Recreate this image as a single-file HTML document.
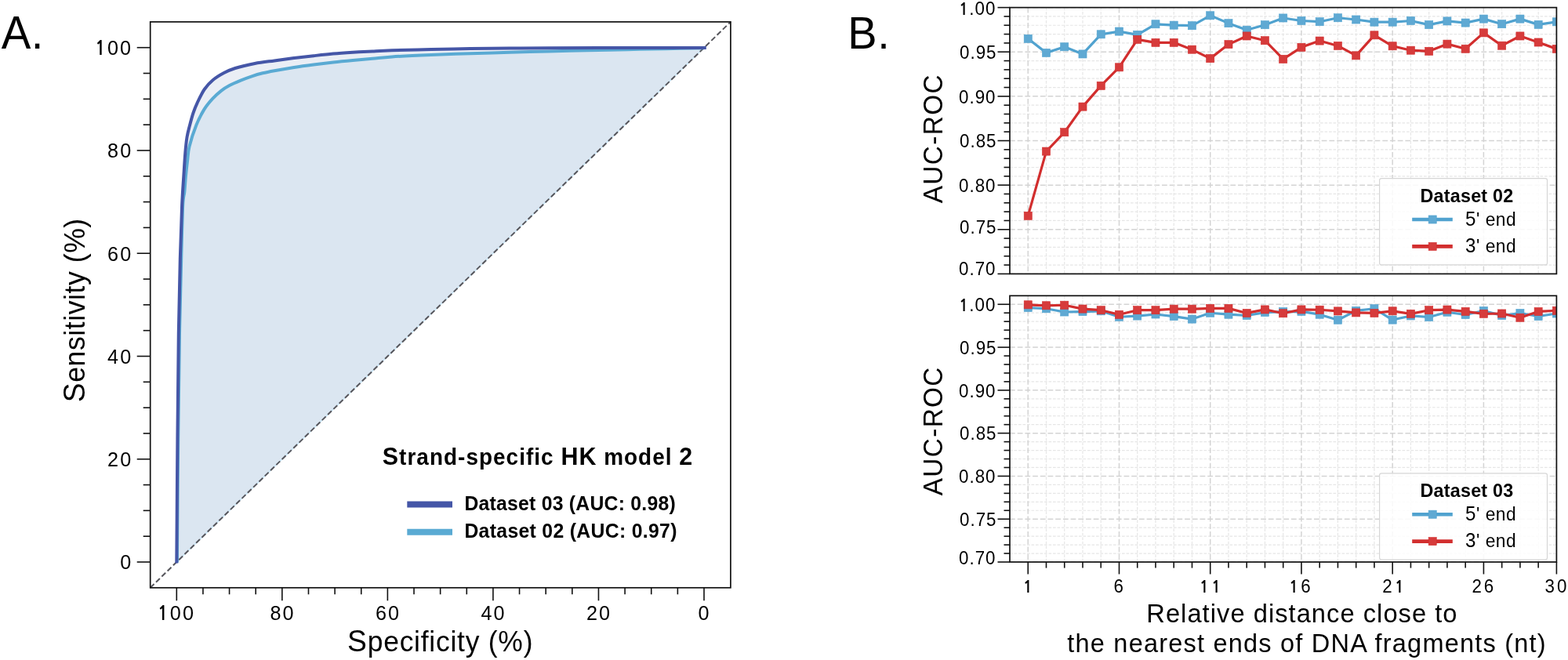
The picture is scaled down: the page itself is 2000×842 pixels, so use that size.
<!DOCTYPE html>
<html><head><meta charset="utf-8"><title>Figure</title>
<style>
html,body{margin:0;padding:0;background:#fff;}
body{width:2000px;height:842px;overflow:hidden;}
svg{display:block;}
text{font-family:"Liberation Sans", Arial, Helvetica, sans-serif;fill:#000;}
</style></head>
<body>
<svg width="2000" height="842" viewBox="0 0 2000 842">
<rect width="2000" height="842" fill="#fff"/>
<g>
<path d="M225.3,718.5 C225.48,692.08 225.98,608.92 226.4,560 C226.82,511.08 227.23,463.33 227.8,425 C228.37,386.67 229.08,357.17 229.8,330 C230.52,302.83 231.35,279.5 232.1,262 C232.85,244.5 233.6,236.17 234.3,225 C235,213.83 235.6,203.33 236.3,195 C237,186.67 237.55,180.83 238.5,175 C239.45,169.17 240.67,165.17 242,160 C243.33,154.83 244.87,148.87 246.5,144 C248.13,139.13 249.43,135.8 251.8,130.8 C254.17,125.8 257.43,118.75 260.7,114 C263.97,109.25 267.25,105.78 271.4,102.3 C275.55,98.82 280.83,95.65 285.6,93.1 C290.37,90.55 293.43,89.02 300,87 C306.57,84.98 316.67,82.6 325,81 C333.33,79.4 341.67,78.55 350,77.4 C358.33,76.25 366.67,75.13 375,74.1 C383.33,73.07 391.67,72.12 400,71.2 C408.33,70.28 416.67,69.33 425,68.6 C433.33,67.87 441.67,67.33 450,66.8 C458.33,66.27 466.67,65.82 475,65.4 C483.33,64.98 487.5,64.7 500,64.3 C512.5,63.9 533.33,63.38 550,63 C566.67,62.62 583.33,62.25 600,62 C616.67,61.75 633.33,61.63 650,61.5 C666.67,61.37 675,61.28 700,61.2 C725,61.12 766.53,61.08 800,61.05 C833.47,61.02 884,61.01 900.8,61 L898,60.7 L225.3,717 Z" fill="#eaeef5" stroke="none"/>
<path d="M225.9,717.5 C226.12,691.25 226.68,608.75 227.2,560 C227.72,511.25 228.33,463.33 229,425 C229.67,386.67 230.5,357.17 231.2,330 C231.9,302.83 232.52,276.17 233.2,262 C233.88,247.83 234.68,251.17 235.3,245 C235.92,238.83 236.27,231.67 236.9,225 C237.53,218.33 238.33,211.33 239.1,205 C239.87,198.67 239.62,194.58 241.5,187 C243.38,179.42 247.2,167.48 250.4,159.5 C253.6,151.52 257.2,144.75 260.7,139.1 C264.2,133.45 267.83,129.48 271.4,125.6 C274.97,121.72 278.55,118.57 282.1,115.8 C285.65,113.03 288.55,111.2 292.7,109 C296.85,106.8 302.25,104.55 307,102.6 C311.75,100.65 316.53,98.85 321.2,97.3 C325.87,95.75 330.2,94.48 335,93.3 C339.8,92.12 343.33,91.43 350,90.2 C356.67,88.97 366.67,87.2 375,85.9 C383.33,84.6 391.67,83.48 400,82.4 C408.33,81.32 416.67,80.32 425,79.4 C433.33,78.48 441.67,77.68 450,76.9 C458.33,76.12 466.67,75.45 475,74.7 C483.33,73.95 487.5,73.18 500,72.4 C512.5,71.62 533.33,70.7 550,70 C566.67,69.3 583.33,68.73 600,68.2 C616.67,67.67 633.33,67.25 650,66.8 C666.67,66.35 683.33,65.92 700,65.5 C716.67,65.08 733.33,64.68 750,64.3 C766.67,63.92 783.33,63.55 800,63.2 C816.67,62.85 833.67,62.53 850,62.2 C866.33,61.87 890,61.37 898,61.2 L898,60.7 L225.3,717 Z" fill="#dbe6f1" stroke="none"/>
<line x1="225.3" y1="717" x2="898" y2="60.7" stroke="#c4e2f3" stroke-width="1.3"/>
<line x1="191.7" y1="749.8" x2="931.9" y2="27.9" stroke="#56565c" stroke-width="2" stroke-dasharray="6.8 3.4"/>
<path d="M225.9,717.5 C226.12,691.25 226.68,608.75 227.2,560 C227.72,511.25 228.33,463.33 229,425 C229.67,386.67 230.5,357.17 231.2,330 C231.9,302.83 232.52,276.17 233.2,262 C233.88,247.83 234.68,251.17 235.3,245 C235.92,238.83 236.27,231.67 236.9,225 C237.53,218.33 238.33,211.33 239.1,205 C239.87,198.67 239.62,194.58 241.5,187 C243.38,179.42 247.2,167.48 250.4,159.5 C253.6,151.52 257.2,144.75 260.7,139.1 C264.2,133.45 267.83,129.48 271.4,125.6 C274.97,121.72 278.55,118.57 282.1,115.8 C285.65,113.03 288.55,111.2 292.7,109 C296.85,106.8 302.25,104.55 307,102.6 C311.75,100.65 316.53,98.85 321.2,97.3 C325.87,95.75 330.2,94.48 335,93.3 C339.8,92.12 343.33,91.43 350,90.2 C356.67,88.97 366.67,87.2 375,85.9 C383.33,84.6 391.67,83.48 400,82.4 C408.33,81.32 416.67,80.32 425,79.4 C433.33,78.48 441.67,77.68 450,76.9 C458.33,76.12 466.67,75.45 475,74.7 C483.33,73.95 487.5,73.18 500,72.4 C512.5,71.62 533.33,70.7 550,70 C566.67,69.3 583.33,68.73 600,68.2 C616.67,67.67 633.33,67.25 650,66.8 C666.67,66.35 683.33,65.92 700,65.5 C716.67,65.08 733.33,64.68 750,64.3 C766.67,63.92 783.33,63.55 800,63.2 C816.67,62.85 833.67,62.53 850,62.2 C866.33,61.87 890,61.37 898,61.2" fill="none" stroke="#5aaad3" stroke-width="4"/>
<path d="M225.3,718.5 C225.48,692.08 225.98,608.92 226.4,560 C226.82,511.08 227.23,463.33 227.8,425 C228.37,386.67 229.08,357.17 229.8,330 C230.52,302.83 231.35,279.5 232.1,262 C232.85,244.5 233.6,236.17 234.3,225 C235,213.83 235.6,203.33 236.3,195 C237,186.67 237.55,180.83 238.5,175 C239.45,169.17 240.67,165.17 242,160 C243.33,154.83 244.87,148.87 246.5,144 C248.13,139.13 249.43,135.8 251.8,130.8 C254.17,125.8 257.43,118.75 260.7,114 C263.97,109.25 267.25,105.78 271.4,102.3 C275.55,98.82 280.83,95.65 285.6,93.1 C290.37,90.55 293.43,89.02 300,87 C306.57,84.98 316.67,82.6 325,81 C333.33,79.4 341.67,78.55 350,77.4 C358.33,76.25 366.67,75.13 375,74.1 C383.33,73.07 391.67,72.12 400,71.2 C408.33,70.28 416.67,69.33 425,68.6 C433.33,67.87 441.67,67.33 450,66.8 C458.33,66.27 466.67,65.82 475,65.4 C483.33,64.98 487.5,64.7 500,64.3 C512.5,63.9 533.33,63.38 550,63 C566.67,62.62 583.33,62.25 600,62 C616.67,61.75 633.33,61.63 650,61.5 C666.67,61.37 675,61.28 700,61.2 C725,61.12 766.53,61.08 800,61.05 C833.47,61.02 884,61.01 900.8,61" fill="none" stroke="#4556a7" stroke-width="4"/>
<rect x="191.7" y="27.9" width="740.2" height="721.9" fill="none" stroke="#111" stroke-width="1.7"/>
<line x1="174.7" y1="717" x2="191.7" y2="717" stroke="#111" stroke-width="1.6" />
<line x1="182.7" y1="684.18" x2="191.7" y2="684.18" stroke="#111" stroke-width="1.6" />
<line x1="182.7" y1="651.37" x2="191.7" y2="651.37" stroke="#111" stroke-width="1.6" />
<line x1="182.7" y1="618.56" x2="191.7" y2="618.56" stroke="#111" stroke-width="1.6" />
<line x1="174.7" y1="585.74" x2="191.7" y2="585.74" stroke="#111" stroke-width="1.6" />
<line x1="182.7" y1="552.92" x2="191.7" y2="552.92" stroke="#111" stroke-width="1.6" />
<line x1="182.7" y1="520.11" x2="191.7" y2="520.11" stroke="#111" stroke-width="1.6" />
<line x1="182.7" y1="487.3" x2="191.7" y2="487.3" stroke="#111" stroke-width="1.6" />
<line x1="174.7" y1="454.48" x2="191.7" y2="454.48" stroke="#111" stroke-width="1.6" />
<line x1="182.7" y1="421.67" x2="191.7" y2="421.67" stroke="#111" stroke-width="1.6" />
<line x1="182.7" y1="388.85" x2="191.7" y2="388.85" stroke="#111" stroke-width="1.6" />
<line x1="182.7" y1="356.04" x2="191.7" y2="356.04" stroke="#111" stroke-width="1.6" />
<line x1="174.7" y1="323.22" x2="191.7" y2="323.22" stroke="#111" stroke-width="1.6" />
<line x1="182.7" y1="290.41" x2="191.7" y2="290.41" stroke="#111" stroke-width="1.6" />
<line x1="182.7" y1="257.59" x2="191.7" y2="257.59" stroke="#111" stroke-width="1.6" />
<line x1="182.7" y1="224.78" x2="191.7" y2="224.78" stroke="#111" stroke-width="1.6" />
<line x1="174.7" y1="191.96" x2="191.7" y2="191.96" stroke="#111" stroke-width="1.6" />
<line x1="182.7" y1="159.14" x2="191.7" y2="159.14" stroke="#111" stroke-width="1.6" />
<line x1="182.7" y1="126.33" x2="191.7" y2="126.33" stroke="#111" stroke-width="1.6" />
<line x1="182.7" y1="93.51" x2="191.7" y2="93.51" stroke="#111" stroke-width="1.6" />
<line x1="174.7" y1="60.7" x2="191.7" y2="60.7" stroke="#111" stroke-width="1.6" />
<line x1="898" y1="749.8" x2="898" y2="766.3" stroke="#111" stroke-width="1.6" />
<line x1="864.37" y1="749.8" x2="864.37" y2="758.3" stroke="#111" stroke-width="1.6" />
<line x1="830.73" y1="749.8" x2="830.73" y2="758.3" stroke="#111" stroke-width="1.6" />
<line x1="797.1" y1="749.8" x2="797.1" y2="758.3" stroke="#111" stroke-width="1.6" />
<line x1="763.46" y1="749.8" x2="763.46" y2="766.3" stroke="#111" stroke-width="1.6" />
<line x1="729.83" y1="749.8" x2="729.83" y2="758.3" stroke="#111" stroke-width="1.6" />
<line x1="696.19" y1="749.8" x2="696.19" y2="758.3" stroke="#111" stroke-width="1.6" />
<line x1="662.56" y1="749.8" x2="662.56" y2="758.3" stroke="#111" stroke-width="1.6" />
<line x1="628.92" y1="749.8" x2="628.92" y2="766.3" stroke="#111" stroke-width="1.6" />
<line x1="595.29" y1="749.8" x2="595.29" y2="758.3" stroke="#111" stroke-width="1.6" />
<line x1="561.65" y1="749.8" x2="561.65" y2="758.3" stroke="#111" stroke-width="1.6" />
<line x1="528.02" y1="749.8" x2="528.02" y2="758.3" stroke="#111" stroke-width="1.6" />
<line x1="494.38" y1="749.8" x2="494.38" y2="766.3" stroke="#111" stroke-width="1.6" />
<line x1="460.75" y1="749.8" x2="460.75" y2="758.3" stroke="#111" stroke-width="1.6" />
<line x1="427.11" y1="749.8" x2="427.11" y2="758.3" stroke="#111" stroke-width="1.6" />
<line x1="393.48" y1="749.8" x2="393.48" y2="758.3" stroke="#111" stroke-width="1.6" />
<line x1="359.84" y1="749.8" x2="359.84" y2="766.3" stroke="#111" stroke-width="1.6" />
<line x1="326.21" y1="749.8" x2="326.21" y2="758.3" stroke="#111" stroke-width="1.6" />
<line x1="292.57" y1="749.8" x2="292.57" y2="758.3" stroke="#111" stroke-width="1.6" />
<line x1="258.94" y1="749.8" x2="258.94" y2="758.3" stroke="#111" stroke-width="1.6" />
<line x1="225.3" y1="749.8" x2="225.3" y2="766.3" stroke="#111" stroke-width="1.6" />
<line x1="519.3" y1="643.55" x2="577" y2="643.55" stroke="#4556a7" stroke-width="7.9" />
<line x1="519.3" y1="678.8" x2="577" y2="678.8" stroke="#5aaad3" stroke-width="7.9" />
</g>
<g>
<clipPath id="cpT"><rect x="1288.0" y="9.6" width="697.4" height="339.8"/></clipPath>
<g clip-path="url(#cpT)">
<line x1="1288.0" y1="349.4" x2="1985.4" y2="349.4" stroke="#d4d4d4" stroke-width="1.5" stroke-dasharray="6.8 2.9"/>
<line x1="1288.0" y1="338.07" x2="1985.4" y2="338.07" stroke="#e6e6e6" stroke-width="1.2" stroke-dasharray="3.7 1.8"/>
<line x1="1288.0" y1="326.75" x2="1985.4" y2="326.75" stroke="#e6e6e6" stroke-width="1.2" stroke-dasharray="3.7 1.8"/>
<line x1="1288.0" y1="315.42" x2="1985.4" y2="315.42" stroke="#e6e6e6" stroke-width="1.2" stroke-dasharray="3.7 1.8"/>
<line x1="1288.0" y1="304.09" x2="1985.4" y2="304.09" stroke="#e6e6e6" stroke-width="1.2" stroke-dasharray="3.7 1.8"/>
<line x1="1288.0" y1="292.77" x2="1985.4" y2="292.77" stroke="#d4d4d4" stroke-width="1.5" stroke-dasharray="6.8 2.9"/>
<line x1="1288.0" y1="281.44" x2="1985.4" y2="281.44" stroke="#e6e6e6" stroke-width="1.2" stroke-dasharray="3.7 1.8"/>
<line x1="1288.0" y1="270.11" x2="1985.4" y2="270.11" stroke="#e6e6e6" stroke-width="1.2" stroke-dasharray="3.7 1.8"/>
<line x1="1288.0" y1="258.79" x2="1985.4" y2="258.79" stroke="#e6e6e6" stroke-width="1.2" stroke-dasharray="3.7 1.8"/>
<line x1="1288.0" y1="247.46" x2="1985.4" y2="247.46" stroke="#e6e6e6" stroke-width="1.2" stroke-dasharray="3.7 1.8"/>
<line x1="1288.0" y1="236.13" x2="1985.4" y2="236.13" stroke="#d4d4d4" stroke-width="1.5" stroke-dasharray="6.8 2.9"/>
<line x1="1288.0" y1="224.81" x2="1985.4" y2="224.81" stroke="#e6e6e6" stroke-width="1.2" stroke-dasharray="3.7 1.8"/>
<line x1="1288.0" y1="213.48" x2="1985.4" y2="213.48" stroke="#e6e6e6" stroke-width="1.2" stroke-dasharray="3.7 1.8"/>
<line x1="1288.0" y1="202.15" x2="1985.4" y2="202.15" stroke="#e6e6e6" stroke-width="1.2" stroke-dasharray="3.7 1.8"/>
<line x1="1288.0" y1="190.83" x2="1985.4" y2="190.83" stroke="#e6e6e6" stroke-width="1.2" stroke-dasharray="3.7 1.8"/>
<line x1="1288.0" y1="179.5" x2="1985.4" y2="179.5" stroke="#d4d4d4" stroke-width="1.5" stroke-dasharray="6.8 2.9"/>
<line x1="1288.0" y1="168.17" x2="1985.4" y2="168.17" stroke="#e6e6e6" stroke-width="1.2" stroke-dasharray="3.7 1.8"/>
<line x1="1288.0" y1="156.85" x2="1985.4" y2="156.85" stroke="#e6e6e6" stroke-width="1.2" stroke-dasharray="3.7 1.8"/>
<line x1="1288.0" y1="145.52" x2="1985.4" y2="145.52" stroke="#e6e6e6" stroke-width="1.2" stroke-dasharray="3.7 1.8"/>
<line x1="1288.0" y1="134.19" x2="1985.4" y2="134.19" stroke="#e6e6e6" stroke-width="1.2" stroke-dasharray="3.7 1.8"/>
<line x1="1288.0" y1="122.87" x2="1985.4" y2="122.87" stroke="#d4d4d4" stroke-width="1.5" stroke-dasharray="6.8 2.9"/>
<line x1="1288.0" y1="111.54" x2="1985.4" y2="111.54" stroke="#e6e6e6" stroke-width="1.2" stroke-dasharray="3.7 1.8"/>
<line x1="1288.0" y1="100.21" x2="1985.4" y2="100.21" stroke="#e6e6e6" stroke-width="1.2" stroke-dasharray="3.7 1.8"/>
<line x1="1288.0" y1="88.89" x2="1985.4" y2="88.89" stroke="#e6e6e6" stroke-width="1.2" stroke-dasharray="3.7 1.8"/>
<line x1="1288.0" y1="77.56" x2="1985.4" y2="77.56" stroke="#e6e6e6" stroke-width="1.2" stroke-dasharray="3.7 1.8"/>
<line x1="1288.0" y1="66.23" x2="1985.4" y2="66.23" stroke="#d4d4d4" stroke-width="1.5" stroke-dasharray="6.8 2.9"/>
<line x1="1288.0" y1="54.91" x2="1985.4" y2="54.91" stroke="#e6e6e6" stroke-width="1.2" stroke-dasharray="3.7 1.8"/>
<line x1="1288.0" y1="43.58" x2="1985.4" y2="43.58" stroke="#e6e6e6" stroke-width="1.2" stroke-dasharray="3.7 1.8"/>
<line x1="1288.0" y1="32.25" x2="1985.4" y2="32.25" stroke="#e6e6e6" stroke-width="1.2" stroke-dasharray="3.7 1.8"/>
<line x1="1288.0" y1="20.93" x2="1985.4" y2="20.93" stroke="#e6e6e6" stroke-width="1.2" stroke-dasharray="3.7 1.8"/>
<line x1="1288.0" y1="9.6" x2="1985.4" y2="9.6" stroke="#d4d4d4" stroke-width="1.5" stroke-dasharray="6.8 2.9"/>
<line x1="1311.25" y1="9.6" x2="1311.25" y2="349.4" stroke="#d4d4d4" stroke-width="1.5" stroke-dasharray="6.8 2.9"/>
<line x1="1334.49" y1="9.6" x2="1334.49" y2="349.4" stroke="#e6e6e6" stroke-width="1.2" stroke-dasharray="3.7 1.8"/>
<line x1="1357.74" y1="9.6" x2="1357.74" y2="349.4" stroke="#e6e6e6" stroke-width="1.2" stroke-dasharray="3.7 1.8"/>
<line x1="1380.99" y1="9.6" x2="1380.99" y2="349.4" stroke="#e6e6e6" stroke-width="1.2" stroke-dasharray="3.7 1.8"/>
<line x1="1404.23" y1="9.6" x2="1404.23" y2="349.4" stroke="#e6e6e6" stroke-width="1.2" stroke-dasharray="3.7 1.8"/>
<line x1="1427.48" y1="9.6" x2="1427.48" y2="349.4" stroke="#d4d4d4" stroke-width="1.5" stroke-dasharray="6.8 2.9"/>
<line x1="1450.73" y1="9.6" x2="1450.73" y2="349.4" stroke="#e6e6e6" stroke-width="1.2" stroke-dasharray="3.7 1.8"/>
<line x1="1473.97" y1="9.6" x2="1473.97" y2="349.4" stroke="#e6e6e6" stroke-width="1.2" stroke-dasharray="3.7 1.8"/>
<line x1="1497.22" y1="9.6" x2="1497.22" y2="349.4" stroke="#e6e6e6" stroke-width="1.2" stroke-dasharray="3.7 1.8"/>
<line x1="1520.47" y1="9.6" x2="1520.47" y2="349.4" stroke="#e6e6e6" stroke-width="1.2" stroke-dasharray="3.7 1.8"/>
<line x1="1543.71" y1="9.6" x2="1543.71" y2="349.4" stroke="#d4d4d4" stroke-width="1.5" stroke-dasharray="6.8 2.9"/>
<line x1="1566.96" y1="9.6" x2="1566.96" y2="349.4" stroke="#e6e6e6" stroke-width="1.2" stroke-dasharray="3.7 1.8"/>
<line x1="1590.21" y1="9.6" x2="1590.21" y2="349.4" stroke="#e6e6e6" stroke-width="1.2" stroke-dasharray="3.7 1.8"/>
<line x1="1613.45" y1="9.6" x2="1613.45" y2="349.4" stroke="#e6e6e6" stroke-width="1.2" stroke-dasharray="3.7 1.8"/>
<line x1="1636.7" y1="9.6" x2="1636.7" y2="349.4" stroke="#e6e6e6" stroke-width="1.2" stroke-dasharray="3.7 1.8"/>
<line x1="1659.95" y1="9.6" x2="1659.95" y2="349.4" stroke="#d4d4d4" stroke-width="1.5" stroke-dasharray="6.8 2.9"/>
<line x1="1683.19" y1="9.6" x2="1683.19" y2="349.4" stroke="#e6e6e6" stroke-width="1.2" stroke-dasharray="3.7 1.8"/>
<line x1="1706.44" y1="9.6" x2="1706.44" y2="349.4" stroke="#e6e6e6" stroke-width="1.2" stroke-dasharray="3.7 1.8"/>
<line x1="1729.69" y1="9.6" x2="1729.69" y2="349.4" stroke="#e6e6e6" stroke-width="1.2" stroke-dasharray="3.7 1.8"/>
<line x1="1752.93" y1="9.6" x2="1752.93" y2="349.4" stroke="#e6e6e6" stroke-width="1.2" stroke-dasharray="3.7 1.8"/>
<line x1="1776.18" y1="9.6" x2="1776.18" y2="349.4" stroke="#d4d4d4" stroke-width="1.5" stroke-dasharray="6.8 2.9"/>
<line x1="1799.43" y1="9.6" x2="1799.43" y2="349.4" stroke="#e6e6e6" stroke-width="1.2" stroke-dasharray="3.7 1.8"/>
<line x1="1822.67" y1="9.6" x2="1822.67" y2="349.4" stroke="#e6e6e6" stroke-width="1.2" stroke-dasharray="3.7 1.8"/>
<line x1="1845.92" y1="9.6" x2="1845.92" y2="349.4" stroke="#e6e6e6" stroke-width="1.2" stroke-dasharray="3.7 1.8"/>
<line x1="1869.17" y1="9.6" x2="1869.17" y2="349.4" stroke="#e6e6e6" stroke-width="1.2" stroke-dasharray="3.7 1.8"/>
<line x1="1892.41" y1="9.6" x2="1892.41" y2="349.4" stroke="#d4d4d4" stroke-width="1.5" stroke-dasharray="6.8 2.9"/>
<line x1="1915.66" y1="9.6" x2="1915.66" y2="349.4" stroke="#e6e6e6" stroke-width="1.2" stroke-dasharray="3.7 1.8"/>
<line x1="1938.91" y1="9.6" x2="1938.91" y2="349.4" stroke="#e6e6e6" stroke-width="1.2" stroke-dasharray="3.7 1.8"/>
<line x1="1962.15" y1="9.6" x2="1962.15" y2="349.4" stroke="#e6e6e6" stroke-width="1.2" stroke-dasharray="3.7 1.8"/>
<line x1="1985.4" y1="9.6" x2="1985.4" y2="349.4" stroke="#d4d4d4" stroke-width="1.5" stroke-dasharray="6.8 2.9"/>
<polyline points="1311.25,49.36 1334.49,67.37 1357.74,59.78 1380.99,68.95 1404.23,43.81 1427.48,40.07 1450.73,44.37 1473.97,30.78 1497.22,32.14 1520.47,32.71 1543.71,19.79 1566.96,29.65 1590.21,38.26 1613.45,31.69 1636.7,22.97 1659.95,26.48 1683.19,27.72 1706.44,22.74 1729.69,25 1752.93,28.18 1776.18,28.18 1799.43,26.48 1822.67,31.57 1845.92,26.93 1869.17,29.08 1892.41,24.1 1915.66,30.67 1938.91,24.1 1962.15,31.35 1985.4,27.84" fill="none" stroke="#50a2cf" stroke-width="3.2" stroke-linejoin="round"/>
<rect x="1306.2" y="44.31" width="10.1" height="10.1" fill="#5fa9d3" stroke="#50a2cf" stroke-width="0.6"/>
<rect x="1329.44" y="62.32" width="10.1" height="10.1" fill="#5fa9d3" stroke="#50a2cf" stroke-width="0.6"/>
<rect x="1352.69" y="54.73" width="10.1" height="10.1" fill="#5fa9d3" stroke="#50a2cf" stroke-width="0.6"/>
<rect x="1375.94" y="63.9" width="10.1" height="10.1" fill="#5fa9d3" stroke="#50a2cf" stroke-width="0.6"/>
<rect x="1399.18" y="38.76" width="10.1" height="10.1" fill="#5fa9d3" stroke="#50a2cf" stroke-width="0.6"/>
<rect x="1422.43" y="35.02" width="10.1" height="10.1" fill="#5fa9d3" stroke="#50a2cf" stroke-width="0.6"/>
<rect x="1445.68" y="39.32" width="10.1" height="10.1" fill="#5fa9d3" stroke="#50a2cf" stroke-width="0.6"/>
<rect x="1468.92" y="25.73" width="10.1" height="10.1" fill="#5fa9d3" stroke="#50a2cf" stroke-width="0.6"/>
<rect x="1492.17" y="27.09" width="10.1" height="10.1" fill="#5fa9d3" stroke="#50a2cf" stroke-width="0.6"/>
<rect x="1515.42" y="27.66" width="10.1" height="10.1" fill="#5fa9d3" stroke="#50a2cf" stroke-width="0.6"/>
<rect x="1538.66" y="14.74" width="10.1" height="10.1" fill="#5fa9d3" stroke="#50a2cf" stroke-width="0.6"/>
<rect x="1561.91" y="24.6" width="10.1" height="10.1" fill="#5fa9d3" stroke="#50a2cf" stroke-width="0.6"/>
<rect x="1585.16" y="33.21" width="10.1" height="10.1" fill="#5fa9d3" stroke="#50a2cf" stroke-width="0.6"/>
<rect x="1608.4" y="26.64" width="10.1" height="10.1" fill="#5fa9d3" stroke="#50a2cf" stroke-width="0.6"/>
<rect x="1631.65" y="17.92" width="10.1" height="10.1" fill="#5fa9d3" stroke="#50a2cf" stroke-width="0.6"/>
<rect x="1654.9" y="21.43" width="10.1" height="10.1" fill="#5fa9d3" stroke="#50a2cf" stroke-width="0.6"/>
<rect x="1678.14" y="22.67" width="10.1" height="10.1" fill="#5fa9d3" stroke="#50a2cf" stroke-width="0.6"/>
<rect x="1701.39" y="17.69" width="10.1" height="10.1" fill="#5fa9d3" stroke="#50a2cf" stroke-width="0.6"/>
<rect x="1724.64" y="19.95" width="10.1" height="10.1" fill="#5fa9d3" stroke="#50a2cf" stroke-width="0.6"/>
<rect x="1747.88" y="23.13" width="10.1" height="10.1" fill="#5fa9d3" stroke="#50a2cf" stroke-width="0.6"/>
<rect x="1771.13" y="23.13" width="10.1" height="10.1" fill="#5fa9d3" stroke="#50a2cf" stroke-width="0.6"/>
<rect x="1794.38" y="21.43" width="10.1" height="10.1" fill="#5fa9d3" stroke="#50a2cf" stroke-width="0.6"/>
<rect x="1817.62" y="26.52" width="10.1" height="10.1" fill="#5fa9d3" stroke="#50a2cf" stroke-width="0.6"/>
<rect x="1840.87" y="21.88" width="10.1" height="10.1" fill="#5fa9d3" stroke="#50a2cf" stroke-width="0.6"/>
<rect x="1864.12" y="24.03" width="10.1" height="10.1" fill="#5fa9d3" stroke="#50a2cf" stroke-width="0.6"/>
<rect x="1887.36" y="19.05" width="10.1" height="10.1" fill="#5fa9d3" stroke="#50a2cf" stroke-width="0.6"/>
<rect x="1910.61" y="25.62" width="10.1" height="10.1" fill="#5fa9d3" stroke="#50a2cf" stroke-width="0.6"/>
<rect x="1933.86" y="19.05" width="10.1" height="10.1" fill="#5fa9d3" stroke="#50a2cf" stroke-width="0.6"/>
<rect x="1957.1" y="26.3" width="10.1" height="10.1" fill="#5fa9d3" stroke="#50a2cf" stroke-width="0.6"/>
<rect x="1980.35" y="22.79" width="10.1" height="10.1" fill="#5fa9d3" stroke="#50a2cf" stroke-width="0.6"/>
<polyline points="1311.25,275.32 1334.49,193.09 1357.74,168.74 1380.99,136.12 1404.23,109.39 1427.48,85.83 1450.73,50.38 1473.97,54.34 1497.22,54.34 1520.47,63.18 1543.71,74.62 1566.96,56.61 1590.21,45.96 1613.45,51.74 1636.7,75.41 1659.95,60.34 1683.19,52.07 1706.44,58.42 1729.69,70.88 1752.93,44.83 1776.18,58.76 1799.43,64.19 1822.67,65.33 1845.92,56.15 1869.17,62.27 1892.41,41.88 1915.66,58.19 1938.91,45.96 1962.15,54 1985.4,62.38" fill="none" stroke="#d22e2e" stroke-width="3.2" stroke-linejoin="round"/>
<rect x="1306.2" y="270.27" width="10.1" height="10.1" fill="#d63b3b" stroke="#d22e2e" stroke-width="0.6"/>
<rect x="1329.44" y="188.04" width="10.1" height="10.1" fill="#d63b3b" stroke="#d22e2e" stroke-width="0.6"/>
<rect x="1352.69" y="163.69" width="10.1" height="10.1" fill="#d63b3b" stroke="#d22e2e" stroke-width="0.6"/>
<rect x="1375.94" y="131.07" width="10.1" height="10.1" fill="#d63b3b" stroke="#d22e2e" stroke-width="0.6"/>
<rect x="1399.18" y="104.34" width="10.1" height="10.1" fill="#d63b3b" stroke="#d22e2e" stroke-width="0.6"/>
<rect x="1422.43" y="80.78" width="10.1" height="10.1" fill="#d63b3b" stroke="#d22e2e" stroke-width="0.6"/>
<rect x="1445.68" y="45.33" width="10.1" height="10.1" fill="#d63b3b" stroke="#d22e2e" stroke-width="0.6"/>
<rect x="1468.92" y="49.29" width="10.1" height="10.1" fill="#d63b3b" stroke="#d22e2e" stroke-width="0.6"/>
<rect x="1492.17" y="49.29" width="10.1" height="10.1" fill="#d63b3b" stroke="#d22e2e" stroke-width="0.6"/>
<rect x="1515.42" y="58.13" width="10.1" height="10.1" fill="#d63b3b" stroke="#d22e2e" stroke-width="0.6"/>
<rect x="1538.66" y="69.57" width="10.1" height="10.1" fill="#d63b3b" stroke="#d22e2e" stroke-width="0.6"/>
<rect x="1561.91" y="51.56" width="10.1" height="10.1" fill="#d63b3b" stroke="#d22e2e" stroke-width="0.6"/>
<rect x="1585.16" y="40.91" width="10.1" height="10.1" fill="#d63b3b" stroke="#d22e2e" stroke-width="0.6"/>
<rect x="1608.4" y="46.69" width="10.1" height="10.1" fill="#d63b3b" stroke="#d22e2e" stroke-width="0.6"/>
<rect x="1631.65" y="70.36" width="10.1" height="10.1" fill="#d63b3b" stroke="#d22e2e" stroke-width="0.6"/>
<rect x="1654.9" y="55.29" width="10.1" height="10.1" fill="#d63b3b" stroke="#d22e2e" stroke-width="0.6"/>
<rect x="1678.14" y="47.02" width="10.1" height="10.1" fill="#d63b3b" stroke="#d22e2e" stroke-width="0.6"/>
<rect x="1701.39" y="53.37" width="10.1" height="10.1" fill="#d63b3b" stroke="#d22e2e" stroke-width="0.6"/>
<rect x="1724.64" y="65.83" width="10.1" height="10.1" fill="#d63b3b" stroke="#d22e2e" stroke-width="0.6"/>
<rect x="1747.88" y="39.78" width="10.1" height="10.1" fill="#d63b3b" stroke="#d22e2e" stroke-width="0.6"/>
<rect x="1771.13" y="53.71" width="10.1" height="10.1" fill="#d63b3b" stroke="#d22e2e" stroke-width="0.6"/>
<rect x="1794.38" y="59.14" width="10.1" height="10.1" fill="#d63b3b" stroke="#d22e2e" stroke-width="0.6"/>
<rect x="1817.62" y="60.28" width="10.1" height="10.1" fill="#d63b3b" stroke="#d22e2e" stroke-width="0.6"/>
<rect x="1840.87" y="51.1" width="10.1" height="10.1" fill="#d63b3b" stroke="#d22e2e" stroke-width="0.6"/>
<rect x="1864.12" y="57.22" width="10.1" height="10.1" fill="#d63b3b" stroke="#d22e2e" stroke-width="0.6"/>
<rect x="1887.36" y="36.83" width="10.1" height="10.1" fill="#d63b3b" stroke="#d22e2e" stroke-width="0.6"/>
<rect x="1910.61" y="53.14" width="10.1" height="10.1" fill="#d63b3b" stroke="#d22e2e" stroke-width="0.6"/>
<rect x="1933.86" y="40.91" width="10.1" height="10.1" fill="#d63b3b" stroke="#d22e2e" stroke-width="0.6"/>
<rect x="1957.1" y="48.95" width="10.1" height="10.1" fill="#d63b3b" stroke="#d22e2e" stroke-width="0.6"/>
<rect x="1980.35" y="57.33" width="10.1" height="10.1" fill="#d63b3b" stroke="#d22e2e" stroke-width="0.6"/>
</g>
<rect x="1759.6" y="227.6" width="213.9" height="110.3" rx="2.5" fill="#fff" fill-opacity="0.85" stroke="#d6d6d6" stroke-width="1.2"/>
<line x1="1801.2" y1="280" x2="1852.8" y2="280" stroke="#50a2cf" stroke-width="4.6" />
<rect x="1822.15" y="274.95" width="10.1" height="10.1" fill="#5fa9d3" stroke="#50a2cf" stroke-width="0.6"/>
<line x1="1801.2" y1="314.4" x2="1852.8" y2="314.4" stroke="#d22e2e" stroke-width="4.6" />
<rect x="1822.15" y="309.35" width="10.1" height="10.1" fill="#d63b3b" stroke="#d22e2e" stroke-width="0.6"/>
<rect x="1288.0" y="9.6" width="697.4" height="339.8" fill="none" stroke="#111" stroke-width="1.7"/>
<line x1="1272.5" y1="349.4" x2="1288" y2="349.4" stroke="#111" stroke-width="1.6" />
<line x1="1280.5" y1="338.07" x2="1288" y2="338.07" stroke="#111" stroke-width="1.6" />
<line x1="1280.5" y1="326.75" x2="1288" y2="326.75" stroke="#111" stroke-width="1.6" />
<line x1="1280.5" y1="315.42" x2="1288" y2="315.42" stroke="#111" stroke-width="1.6" />
<line x1="1280.5" y1="304.09" x2="1288" y2="304.09" stroke="#111" stroke-width="1.6" />
<line x1="1272.5" y1="292.77" x2="1288" y2="292.77" stroke="#111" stroke-width="1.6" />
<line x1="1280.5" y1="281.44" x2="1288" y2="281.44" stroke="#111" stroke-width="1.6" />
<line x1="1280.5" y1="270.11" x2="1288" y2="270.11" stroke="#111" stroke-width="1.6" />
<line x1="1280.5" y1="258.79" x2="1288" y2="258.79" stroke="#111" stroke-width="1.6" />
<line x1="1280.5" y1="247.46" x2="1288" y2="247.46" stroke="#111" stroke-width="1.6" />
<line x1="1272.5" y1="236.13" x2="1288" y2="236.13" stroke="#111" stroke-width="1.6" />
<line x1="1280.5" y1="224.81" x2="1288" y2="224.81" stroke="#111" stroke-width="1.6" />
<line x1="1280.5" y1="213.48" x2="1288" y2="213.48" stroke="#111" stroke-width="1.6" />
<line x1="1280.5" y1="202.15" x2="1288" y2="202.15" stroke="#111" stroke-width="1.6" />
<line x1="1280.5" y1="190.83" x2="1288" y2="190.83" stroke="#111" stroke-width="1.6" />
<line x1="1272.5" y1="179.5" x2="1288" y2="179.5" stroke="#111" stroke-width="1.6" />
<line x1="1280.5" y1="168.17" x2="1288" y2="168.17" stroke="#111" stroke-width="1.6" />
<line x1="1280.5" y1="156.85" x2="1288" y2="156.85" stroke="#111" stroke-width="1.6" />
<line x1="1280.5" y1="145.52" x2="1288" y2="145.52" stroke="#111" stroke-width="1.6" />
<line x1="1280.5" y1="134.19" x2="1288" y2="134.19" stroke="#111" stroke-width="1.6" />
<line x1="1272.5" y1="122.87" x2="1288" y2="122.87" stroke="#111" stroke-width="1.6" />
<line x1="1280.5" y1="111.54" x2="1288" y2="111.54" stroke="#111" stroke-width="1.6" />
<line x1="1280.5" y1="100.21" x2="1288" y2="100.21" stroke="#111" stroke-width="1.6" />
<line x1="1280.5" y1="88.89" x2="1288" y2="88.89" stroke="#111" stroke-width="1.6" />
<line x1="1280.5" y1="77.56" x2="1288" y2="77.56" stroke="#111" stroke-width="1.6" />
<line x1="1272.5" y1="66.23" x2="1288" y2="66.23" stroke="#111" stroke-width="1.6" />
<line x1="1280.5" y1="54.91" x2="1288" y2="54.91" stroke="#111" stroke-width="1.6" />
<line x1="1280.5" y1="43.58" x2="1288" y2="43.58" stroke="#111" stroke-width="1.6" />
<line x1="1280.5" y1="32.25" x2="1288" y2="32.25" stroke="#111" stroke-width="1.6" />
<line x1="1280.5" y1="20.93" x2="1288" y2="20.93" stroke="#111" stroke-width="1.6" />
<line x1="1272.5" y1="9.6" x2="1288" y2="9.6" stroke="#111" stroke-width="1.6" />
<clipPath id="cpB"><rect x="1288.0" y="377.3" width="697.4" height="339.7"/></clipPath>
<g clip-path="url(#cpB)">
<line x1="1288.0" y1="717" x2="1985.4" y2="717" stroke="#d4d4d4" stroke-width="1.5" stroke-dasharray="6.8 2.9"/>
<line x1="1288.0" y1="706.04" x2="1985.4" y2="706.04" stroke="#e6e6e6" stroke-width="1.2" stroke-dasharray="3.7 1.8"/>
<line x1="1288.0" y1="695.08" x2="1985.4" y2="695.08" stroke="#e6e6e6" stroke-width="1.2" stroke-dasharray="3.7 1.8"/>
<line x1="1288.0" y1="684.13" x2="1985.4" y2="684.13" stroke="#e6e6e6" stroke-width="1.2" stroke-dasharray="3.7 1.8"/>
<line x1="1288.0" y1="673.17" x2="1985.4" y2="673.17" stroke="#e6e6e6" stroke-width="1.2" stroke-dasharray="3.7 1.8"/>
<line x1="1288.0" y1="662.21" x2="1985.4" y2="662.21" stroke="#d4d4d4" stroke-width="1.5" stroke-dasharray="6.8 2.9"/>
<line x1="1288.0" y1="651.25" x2="1985.4" y2="651.25" stroke="#e6e6e6" stroke-width="1.2" stroke-dasharray="3.7 1.8"/>
<line x1="1288.0" y1="640.29" x2="1985.4" y2="640.29" stroke="#e6e6e6" stroke-width="1.2" stroke-dasharray="3.7 1.8"/>
<line x1="1288.0" y1="629.34" x2="1985.4" y2="629.34" stroke="#e6e6e6" stroke-width="1.2" stroke-dasharray="3.7 1.8"/>
<line x1="1288.0" y1="618.38" x2="1985.4" y2="618.38" stroke="#e6e6e6" stroke-width="1.2" stroke-dasharray="3.7 1.8"/>
<line x1="1288.0" y1="607.42" x2="1985.4" y2="607.42" stroke="#d4d4d4" stroke-width="1.5" stroke-dasharray="6.8 2.9"/>
<line x1="1288.0" y1="596.46" x2="1985.4" y2="596.46" stroke="#e6e6e6" stroke-width="1.2" stroke-dasharray="3.7 1.8"/>
<line x1="1288.0" y1="585.5" x2="1985.4" y2="585.5" stroke="#e6e6e6" stroke-width="1.2" stroke-dasharray="3.7 1.8"/>
<line x1="1288.0" y1="574.55" x2="1985.4" y2="574.55" stroke="#e6e6e6" stroke-width="1.2" stroke-dasharray="3.7 1.8"/>
<line x1="1288.0" y1="563.59" x2="1985.4" y2="563.59" stroke="#e6e6e6" stroke-width="1.2" stroke-dasharray="3.7 1.8"/>
<line x1="1288.0" y1="552.63" x2="1985.4" y2="552.63" stroke="#d4d4d4" stroke-width="1.5" stroke-dasharray="6.8 2.9"/>
<line x1="1288.0" y1="541.67" x2="1985.4" y2="541.67" stroke="#e6e6e6" stroke-width="1.2" stroke-dasharray="3.7 1.8"/>
<line x1="1288.0" y1="530.71" x2="1985.4" y2="530.71" stroke="#e6e6e6" stroke-width="1.2" stroke-dasharray="3.7 1.8"/>
<line x1="1288.0" y1="519.75" x2="1985.4" y2="519.75" stroke="#e6e6e6" stroke-width="1.2" stroke-dasharray="3.7 1.8"/>
<line x1="1288.0" y1="508.8" x2="1985.4" y2="508.8" stroke="#e6e6e6" stroke-width="1.2" stroke-dasharray="3.7 1.8"/>
<line x1="1288.0" y1="497.84" x2="1985.4" y2="497.84" stroke="#d4d4d4" stroke-width="1.5" stroke-dasharray="6.8 2.9"/>
<line x1="1288.0" y1="486.88" x2="1985.4" y2="486.88" stroke="#e6e6e6" stroke-width="1.2" stroke-dasharray="3.7 1.8"/>
<line x1="1288.0" y1="475.92" x2="1985.4" y2="475.92" stroke="#e6e6e6" stroke-width="1.2" stroke-dasharray="3.7 1.8"/>
<line x1="1288.0" y1="464.96" x2="1985.4" y2="464.96" stroke="#e6e6e6" stroke-width="1.2" stroke-dasharray="3.7 1.8"/>
<line x1="1288.0" y1="454.01" x2="1985.4" y2="454.01" stroke="#e6e6e6" stroke-width="1.2" stroke-dasharray="3.7 1.8"/>
<line x1="1288.0" y1="443.05" x2="1985.4" y2="443.05" stroke="#d4d4d4" stroke-width="1.5" stroke-dasharray="6.8 2.9"/>
<line x1="1288.0" y1="432.09" x2="1985.4" y2="432.09" stroke="#e6e6e6" stroke-width="1.2" stroke-dasharray="3.7 1.8"/>
<line x1="1288.0" y1="421.13" x2="1985.4" y2="421.13" stroke="#e6e6e6" stroke-width="1.2" stroke-dasharray="3.7 1.8"/>
<line x1="1288.0" y1="410.17" x2="1985.4" y2="410.17" stroke="#e6e6e6" stroke-width="1.2" stroke-dasharray="3.7 1.8"/>
<line x1="1288.0" y1="399.22" x2="1985.4" y2="399.22" stroke="#e6e6e6" stroke-width="1.2" stroke-dasharray="3.7 1.8"/>
<line x1="1288.0" y1="388.26" x2="1985.4" y2="388.26" stroke="#d4d4d4" stroke-width="1.5" stroke-dasharray="6.8 2.9"/>
<line x1="1288.0" y1="377.3" x2="1985.4" y2="377.3" stroke="#e6e6e6" stroke-width="1.2" stroke-dasharray="3.7 1.8"/>
<line x1="1311.25" y1="377.3" x2="1311.25" y2="717.0" stroke="#d4d4d4" stroke-width="1.5" stroke-dasharray="6.8 2.9"/>
<line x1="1334.49" y1="377.3" x2="1334.49" y2="717.0" stroke="#e6e6e6" stroke-width="1.2" stroke-dasharray="3.7 1.8"/>
<line x1="1357.74" y1="377.3" x2="1357.74" y2="717.0" stroke="#e6e6e6" stroke-width="1.2" stroke-dasharray="3.7 1.8"/>
<line x1="1380.99" y1="377.3" x2="1380.99" y2="717.0" stroke="#e6e6e6" stroke-width="1.2" stroke-dasharray="3.7 1.8"/>
<line x1="1404.23" y1="377.3" x2="1404.23" y2="717.0" stroke="#e6e6e6" stroke-width="1.2" stroke-dasharray="3.7 1.8"/>
<line x1="1427.48" y1="377.3" x2="1427.48" y2="717.0" stroke="#d4d4d4" stroke-width="1.5" stroke-dasharray="6.8 2.9"/>
<line x1="1450.73" y1="377.3" x2="1450.73" y2="717.0" stroke="#e6e6e6" stroke-width="1.2" stroke-dasharray="3.7 1.8"/>
<line x1="1473.97" y1="377.3" x2="1473.97" y2="717.0" stroke="#e6e6e6" stroke-width="1.2" stroke-dasharray="3.7 1.8"/>
<line x1="1497.22" y1="377.3" x2="1497.22" y2="717.0" stroke="#e6e6e6" stroke-width="1.2" stroke-dasharray="3.7 1.8"/>
<line x1="1520.47" y1="377.3" x2="1520.47" y2="717.0" stroke="#e6e6e6" stroke-width="1.2" stroke-dasharray="3.7 1.8"/>
<line x1="1543.71" y1="377.3" x2="1543.71" y2="717.0" stroke="#d4d4d4" stroke-width="1.5" stroke-dasharray="6.8 2.9"/>
<line x1="1566.96" y1="377.3" x2="1566.96" y2="717.0" stroke="#e6e6e6" stroke-width="1.2" stroke-dasharray="3.7 1.8"/>
<line x1="1590.21" y1="377.3" x2="1590.21" y2="717.0" stroke="#e6e6e6" stroke-width="1.2" stroke-dasharray="3.7 1.8"/>
<line x1="1613.45" y1="377.3" x2="1613.45" y2="717.0" stroke="#e6e6e6" stroke-width="1.2" stroke-dasharray="3.7 1.8"/>
<line x1="1636.7" y1="377.3" x2="1636.7" y2="717.0" stroke="#e6e6e6" stroke-width="1.2" stroke-dasharray="3.7 1.8"/>
<line x1="1659.95" y1="377.3" x2="1659.95" y2="717.0" stroke="#d4d4d4" stroke-width="1.5" stroke-dasharray="6.8 2.9"/>
<line x1="1683.19" y1="377.3" x2="1683.19" y2="717.0" stroke="#e6e6e6" stroke-width="1.2" stroke-dasharray="3.7 1.8"/>
<line x1="1706.44" y1="377.3" x2="1706.44" y2="717.0" stroke="#e6e6e6" stroke-width="1.2" stroke-dasharray="3.7 1.8"/>
<line x1="1729.69" y1="377.3" x2="1729.69" y2="717.0" stroke="#e6e6e6" stroke-width="1.2" stroke-dasharray="3.7 1.8"/>
<line x1="1752.93" y1="377.3" x2="1752.93" y2="717.0" stroke="#e6e6e6" stroke-width="1.2" stroke-dasharray="3.7 1.8"/>
<line x1="1776.18" y1="377.3" x2="1776.18" y2="717.0" stroke="#d4d4d4" stroke-width="1.5" stroke-dasharray="6.8 2.9"/>
<line x1="1799.43" y1="377.3" x2="1799.43" y2="717.0" stroke="#e6e6e6" stroke-width="1.2" stroke-dasharray="3.7 1.8"/>
<line x1="1822.67" y1="377.3" x2="1822.67" y2="717.0" stroke="#e6e6e6" stroke-width="1.2" stroke-dasharray="3.7 1.8"/>
<line x1="1845.92" y1="377.3" x2="1845.92" y2="717.0" stroke="#e6e6e6" stroke-width="1.2" stroke-dasharray="3.7 1.8"/>
<line x1="1869.17" y1="377.3" x2="1869.17" y2="717.0" stroke="#e6e6e6" stroke-width="1.2" stroke-dasharray="3.7 1.8"/>
<line x1="1892.41" y1="377.3" x2="1892.41" y2="717.0" stroke="#d4d4d4" stroke-width="1.5" stroke-dasharray="6.8 2.9"/>
<line x1="1915.66" y1="377.3" x2="1915.66" y2="717.0" stroke="#e6e6e6" stroke-width="1.2" stroke-dasharray="3.7 1.8"/>
<line x1="1938.91" y1="377.3" x2="1938.91" y2="717.0" stroke="#e6e6e6" stroke-width="1.2" stroke-dasharray="3.7 1.8"/>
<line x1="1962.15" y1="377.3" x2="1962.15" y2="717.0" stroke="#e6e6e6" stroke-width="1.2" stroke-dasharray="3.7 1.8"/>
<line x1="1985.4" y1="377.3" x2="1985.4" y2="717.0" stroke="#d4d4d4" stroke-width="1.5" stroke-dasharray="6.8 2.9"/>
<polyline points="1311.25,392.53 1334.49,393.74 1357.74,398.01 1380.99,397.57 1404.23,396.81 1427.48,404.26 1450.73,403.05 1473.97,400.97 1497.22,403.6 1520.47,407.11 1543.71,399.22 1566.96,401.19 1590.21,402.5 1613.45,398.56 1636.7,397.57 1659.95,397.35 1683.19,401.19 1706.44,408.2 1729.69,396.37 1752.93,393.74 1776.18,408.09 1799.43,402.94 1822.67,404.48 1845.92,398.23 1869.17,401.52 1892.41,396.48 1915.66,402.5 1938.91,399.54 1962.15,403.49 1985.4,399.98" fill="none" stroke="#50a2cf" stroke-width="3.2" stroke-linejoin="round"/>
<rect x="1306.2" y="387.48" width="10.1" height="10.1" fill="#5fa9d3" stroke="#50a2cf" stroke-width="0.6"/>
<rect x="1329.44" y="388.69" width="10.1" height="10.1" fill="#5fa9d3" stroke="#50a2cf" stroke-width="0.6"/>
<rect x="1352.69" y="392.96" width="10.1" height="10.1" fill="#5fa9d3" stroke="#50a2cf" stroke-width="0.6"/>
<rect x="1375.94" y="392.52" width="10.1" height="10.1" fill="#5fa9d3" stroke="#50a2cf" stroke-width="0.6"/>
<rect x="1399.18" y="391.76" width="10.1" height="10.1" fill="#5fa9d3" stroke="#50a2cf" stroke-width="0.6"/>
<rect x="1422.43" y="399.21" width="10.1" height="10.1" fill="#5fa9d3" stroke="#50a2cf" stroke-width="0.6"/>
<rect x="1445.68" y="398" width="10.1" height="10.1" fill="#5fa9d3" stroke="#50a2cf" stroke-width="0.6"/>
<rect x="1468.92" y="395.92" width="10.1" height="10.1" fill="#5fa9d3" stroke="#50a2cf" stroke-width="0.6"/>
<rect x="1492.17" y="398.55" width="10.1" height="10.1" fill="#5fa9d3" stroke="#50a2cf" stroke-width="0.6"/>
<rect x="1515.42" y="402.06" width="10.1" height="10.1" fill="#5fa9d3" stroke="#50a2cf" stroke-width="0.6"/>
<rect x="1538.66" y="394.17" width="10.1" height="10.1" fill="#5fa9d3" stroke="#50a2cf" stroke-width="0.6"/>
<rect x="1561.91" y="396.14" width="10.1" height="10.1" fill="#5fa9d3" stroke="#50a2cf" stroke-width="0.6"/>
<rect x="1585.16" y="397.45" width="10.1" height="10.1" fill="#5fa9d3" stroke="#50a2cf" stroke-width="0.6"/>
<rect x="1608.4" y="393.51" width="10.1" height="10.1" fill="#5fa9d3" stroke="#50a2cf" stroke-width="0.6"/>
<rect x="1631.65" y="392.52" width="10.1" height="10.1" fill="#5fa9d3" stroke="#50a2cf" stroke-width="0.6"/>
<rect x="1654.9" y="392.3" width="10.1" height="10.1" fill="#5fa9d3" stroke="#50a2cf" stroke-width="0.6"/>
<rect x="1678.14" y="396.14" width="10.1" height="10.1" fill="#5fa9d3" stroke="#50a2cf" stroke-width="0.6"/>
<rect x="1701.39" y="403.15" width="10.1" height="10.1" fill="#5fa9d3" stroke="#50a2cf" stroke-width="0.6"/>
<rect x="1724.64" y="391.32" width="10.1" height="10.1" fill="#5fa9d3" stroke="#50a2cf" stroke-width="0.6"/>
<rect x="1747.88" y="388.69" width="10.1" height="10.1" fill="#5fa9d3" stroke="#50a2cf" stroke-width="0.6"/>
<rect x="1771.13" y="403.04" width="10.1" height="10.1" fill="#5fa9d3" stroke="#50a2cf" stroke-width="0.6"/>
<rect x="1794.38" y="397.89" width="10.1" height="10.1" fill="#5fa9d3" stroke="#50a2cf" stroke-width="0.6"/>
<rect x="1817.62" y="399.43" width="10.1" height="10.1" fill="#5fa9d3" stroke="#50a2cf" stroke-width="0.6"/>
<rect x="1840.87" y="393.18" width="10.1" height="10.1" fill="#5fa9d3" stroke="#50a2cf" stroke-width="0.6"/>
<rect x="1864.12" y="396.47" width="10.1" height="10.1" fill="#5fa9d3" stroke="#50a2cf" stroke-width="0.6"/>
<rect x="1887.36" y="391.43" width="10.1" height="10.1" fill="#5fa9d3" stroke="#50a2cf" stroke-width="0.6"/>
<rect x="1910.61" y="397.45" width="10.1" height="10.1" fill="#5fa9d3" stroke="#50a2cf" stroke-width="0.6"/>
<rect x="1933.86" y="394.49" width="10.1" height="10.1" fill="#5fa9d3" stroke="#50a2cf" stroke-width="0.6"/>
<rect x="1957.1" y="398.44" width="10.1" height="10.1" fill="#5fa9d3" stroke="#50a2cf" stroke-width="0.6"/>
<rect x="1980.35" y="394.93" width="10.1" height="10.1" fill="#5fa9d3" stroke="#50a2cf" stroke-width="0.6"/>
<polyline points="1311.25,388.81 1334.49,389.79 1357.74,389.24 1380.99,394.07 1404.23,395.71 1427.48,401.3 1450.73,395.71 1473.97,395.71 1497.22,394.18 1520.47,394.18 1543.71,393.41 1566.96,393.41 1590.21,399.44 1613.45,394.94 1636.7,399.76 1659.95,394.94 1683.19,395.27 1706.44,396.91 1729.69,398.89 1752.93,399.44 1776.18,396.81 1799.43,400.31 1822.67,395.71 1845.92,395.05 1869.17,397.35 1892.41,400.31 1915.66,399.98 1938.91,405.24 1962.15,397.46 1985.4,396.26" fill="none" stroke="#d22e2e" stroke-width="3.2" stroke-linejoin="round"/>
<rect x="1306.2" y="383.76" width="10.1" height="10.1" fill="#d63b3b" stroke="#d22e2e" stroke-width="0.6"/>
<rect x="1329.44" y="384.74" width="10.1" height="10.1" fill="#d63b3b" stroke="#d22e2e" stroke-width="0.6"/>
<rect x="1352.69" y="384.19" width="10.1" height="10.1" fill="#d63b3b" stroke="#d22e2e" stroke-width="0.6"/>
<rect x="1375.94" y="389.02" width="10.1" height="10.1" fill="#d63b3b" stroke="#d22e2e" stroke-width="0.6"/>
<rect x="1399.18" y="390.66" width="10.1" height="10.1" fill="#d63b3b" stroke="#d22e2e" stroke-width="0.6"/>
<rect x="1422.43" y="396.25" width="10.1" height="10.1" fill="#d63b3b" stroke="#d22e2e" stroke-width="0.6"/>
<rect x="1445.68" y="390.66" width="10.1" height="10.1" fill="#d63b3b" stroke="#d22e2e" stroke-width="0.6"/>
<rect x="1468.92" y="390.66" width="10.1" height="10.1" fill="#d63b3b" stroke="#d22e2e" stroke-width="0.6"/>
<rect x="1492.17" y="389.13" width="10.1" height="10.1" fill="#d63b3b" stroke="#d22e2e" stroke-width="0.6"/>
<rect x="1515.42" y="389.13" width="10.1" height="10.1" fill="#d63b3b" stroke="#d22e2e" stroke-width="0.6"/>
<rect x="1538.66" y="388.36" width="10.1" height="10.1" fill="#d63b3b" stroke="#d22e2e" stroke-width="0.6"/>
<rect x="1561.91" y="388.36" width="10.1" height="10.1" fill="#d63b3b" stroke="#d22e2e" stroke-width="0.6"/>
<rect x="1585.16" y="394.39" width="10.1" height="10.1" fill="#d63b3b" stroke="#d22e2e" stroke-width="0.6"/>
<rect x="1608.4" y="389.89" width="10.1" height="10.1" fill="#d63b3b" stroke="#d22e2e" stroke-width="0.6"/>
<rect x="1631.65" y="394.71" width="10.1" height="10.1" fill="#d63b3b" stroke="#d22e2e" stroke-width="0.6"/>
<rect x="1654.9" y="389.89" width="10.1" height="10.1" fill="#d63b3b" stroke="#d22e2e" stroke-width="0.6"/>
<rect x="1678.14" y="390.22" width="10.1" height="10.1" fill="#d63b3b" stroke="#d22e2e" stroke-width="0.6"/>
<rect x="1701.39" y="391.86" width="10.1" height="10.1" fill="#d63b3b" stroke="#d22e2e" stroke-width="0.6"/>
<rect x="1724.64" y="393.84" width="10.1" height="10.1" fill="#d63b3b" stroke="#d22e2e" stroke-width="0.6"/>
<rect x="1747.88" y="394.39" width="10.1" height="10.1" fill="#d63b3b" stroke="#d22e2e" stroke-width="0.6"/>
<rect x="1771.13" y="391.76" width="10.1" height="10.1" fill="#d63b3b" stroke="#d22e2e" stroke-width="0.6"/>
<rect x="1794.38" y="395.26" width="10.1" height="10.1" fill="#d63b3b" stroke="#d22e2e" stroke-width="0.6"/>
<rect x="1817.62" y="390.66" width="10.1" height="10.1" fill="#d63b3b" stroke="#d22e2e" stroke-width="0.6"/>
<rect x="1840.87" y="390" width="10.1" height="10.1" fill="#d63b3b" stroke="#d22e2e" stroke-width="0.6"/>
<rect x="1864.12" y="392.3" width="10.1" height="10.1" fill="#d63b3b" stroke="#d22e2e" stroke-width="0.6"/>
<rect x="1887.36" y="395.26" width="10.1" height="10.1" fill="#d63b3b" stroke="#d22e2e" stroke-width="0.6"/>
<rect x="1910.61" y="394.93" width="10.1" height="10.1" fill="#d63b3b" stroke="#d22e2e" stroke-width="0.6"/>
<rect x="1933.86" y="400.19" width="10.1" height="10.1" fill="#d63b3b" stroke="#d22e2e" stroke-width="0.6"/>
<rect x="1957.1" y="392.41" width="10.1" height="10.1" fill="#d63b3b" stroke="#d22e2e" stroke-width="0.6"/>
<rect x="1980.35" y="391.21" width="10.1" height="10.1" fill="#d63b3b" stroke="#d22e2e" stroke-width="0.6"/>
</g>
<rect x="1759.6" y="603.8" width="213.9" height="110.3" rx="2.5" fill="#fff" fill-opacity="0.85" stroke="#d6d6d6" stroke-width="1.2"/>
<line x1="1801.2" y1="656.2" x2="1852.8" y2="656.2" stroke="#50a2cf" stroke-width="4.6" />
<rect x="1822.15" y="651.15" width="10.1" height="10.1" fill="#5fa9d3" stroke="#50a2cf" stroke-width="0.6"/>
<line x1="1801.2" y1="690.6" x2="1852.8" y2="690.6" stroke="#d22e2e" stroke-width="4.6" />
<rect x="1822.15" y="685.55" width="10.1" height="10.1" fill="#d63b3b" stroke="#d22e2e" stroke-width="0.6"/>
<rect x="1288.0" y="377.3" width="697.4" height="339.7" fill="none" stroke="#111" stroke-width="1.7"/>
<line x1="1272.5" y1="717" x2="1288" y2="717" stroke="#111" stroke-width="1.6" />
<line x1="1280.5" y1="706.04" x2="1288" y2="706.04" stroke="#111" stroke-width="1.6" />
<line x1="1280.5" y1="695.08" x2="1288" y2="695.08" stroke="#111" stroke-width="1.6" />
<line x1="1280.5" y1="684.13" x2="1288" y2="684.13" stroke="#111" stroke-width="1.6" />
<line x1="1280.5" y1="673.17" x2="1288" y2="673.17" stroke="#111" stroke-width="1.6" />
<line x1="1272.5" y1="662.21" x2="1288" y2="662.21" stroke="#111" stroke-width="1.6" />
<line x1="1280.5" y1="651.25" x2="1288" y2="651.25" stroke="#111" stroke-width="1.6" />
<line x1="1280.5" y1="640.29" x2="1288" y2="640.29" stroke="#111" stroke-width="1.6" />
<line x1="1280.5" y1="629.34" x2="1288" y2="629.34" stroke="#111" stroke-width="1.6" />
<line x1="1280.5" y1="618.38" x2="1288" y2="618.38" stroke="#111" stroke-width="1.6" />
<line x1="1272.5" y1="607.42" x2="1288" y2="607.42" stroke="#111" stroke-width="1.6" />
<line x1="1280.5" y1="596.46" x2="1288" y2="596.46" stroke="#111" stroke-width="1.6" />
<line x1="1280.5" y1="585.5" x2="1288" y2="585.5" stroke="#111" stroke-width="1.6" />
<line x1="1280.5" y1="574.55" x2="1288" y2="574.55" stroke="#111" stroke-width="1.6" />
<line x1="1280.5" y1="563.59" x2="1288" y2="563.59" stroke="#111" stroke-width="1.6" />
<line x1="1272.5" y1="552.63" x2="1288" y2="552.63" stroke="#111" stroke-width="1.6" />
<line x1="1280.5" y1="541.67" x2="1288" y2="541.67" stroke="#111" stroke-width="1.6" />
<line x1="1280.5" y1="530.71" x2="1288" y2="530.71" stroke="#111" stroke-width="1.6" />
<line x1="1280.5" y1="519.75" x2="1288" y2="519.75" stroke="#111" stroke-width="1.6" />
<line x1="1280.5" y1="508.8" x2="1288" y2="508.8" stroke="#111" stroke-width="1.6" />
<line x1="1272.5" y1="497.84" x2="1288" y2="497.84" stroke="#111" stroke-width="1.6" />
<line x1="1280.5" y1="486.88" x2="1288" y2="486.88" stroke="#111" stroke-width="1.6" />
<line x1="1280.5" y1="475.92" x2="1288" y2="475.92" stroke="#111" stroke-width="1.6" />
<line x1="1280.5" y1="464.96" x2="1288" y2="464.96" stroke="#111" stroke-width="1.6" />
<line x1="1280.5" y1="454.01" x2="1288" y2="454.01" stroke="#111" stroke-width="1.6" />
<line x1="1272.5" y1="443.05" x2="1288" y2="443.05" stroke="#111" stroke-width="1.6" />
<line x1="1280.5" y1="432.09" x2="1288" y2="432.09" stroke="#111" stroke-width="1.6" />
<line x1="1280.5" y1="421.13" x2="1288" y2="421.13" stroke="#111" stroke-width="1.6" />
<line x1="1280.5" y1="410.17" x2="1288" y2="410.17" stroke="#111" stroke-width="1.6" />
<line x1="1280.5" y1="399.22" x2="1288" y2="399.22" stroke="#111" stroke-width="1.6" />
<line x1="1272.5" y1="388.26" x2="1288" y2="388.26" stroke="#111" stroke-width="1.6" />
<line x1="1311.25" y1="717" x2="1311.25" y2="732.5" stroke="#111" stroke-width="1.6" />
<line x1="1334.49" y1="717" x2="1334.49" y2="724.6" stroke="#111" stroke-width="1.6" />
<line x1="1357.74" y1="717" x2="1357.74" y2="724.6" stroke="#111" stroke-width="1.6" />
<line x1="1380.99" y1="717" x2="1380.99" y2="724.6" stroke="#111" stroke-width="1.6" />
<line x1="1404.23" y1="717" x2="1404.23" y2="724.6" stroke="#111" stroke-width="1.6" />
<line x1="1427.48" y1="717" x2="1427.48" y2="732.5" stroke="#111" stroke-width="1.6" />
<line x1="1450.73" y1="717" x2="1450.73" y2="724.6" stroke="#111" stroke-width="1.6" />
<line x1="1473.97" y1="717" x2="1473.97" y2="724.6" stroke="#111" stroke-width="1.6" />
<line x1="1497.22" y1="717" x2="1497.22" y2="724.6" stroke="#111" stroke-width="1.6" />
<line x1="1520.47" y1="717" x2="1520.47" y2="724.6" stroke="#111" stroke-width="1.6" />
<line x1="1543.71" y1="717" x2="1543.71" y2="732.5" stroke="#111" stroke-width="1.6" />
<line x1="1566.96" y1="717" x2="1566.96" y2="724.6" stroke="#111" stroke-width="1.6" />
<line x1="1590.21" y1="717" x2="1590.21" y2="724.6" stroke="#111" stroke-width="1.6" />
<line x1="1613.45" y1="717" x2="1613.45" y2="724.6" stroke="#111" stroke-width="1.6" />
<line x1="1636.7" y1="717" x2="1636.7" y2="724.6" stroke="#111" stroke-width="1.6" />
<line x1="1659.95" y1="717" x2="1659.95" y2="732.5" stroke="#111" stroke-width="1.6" />
<line x1="1683.19" y1="717" x2="1683.19" y2="724.6" stroke="#111" stroke-width="1.6" />
<line x1="1706.44" y1="717" x2="1706.44" y2="724.6" stroke="#111" stroke-width="1.6" />
<line x1="1729.69" y1="717" x2="1729.69" y2="724.6" stroke="#111" stroke-width="1.6" />
<line x1="1752.93" y1="717" x2="1752.93" y2="724.6" stroke="#111" stroke-width="1.6" />
<line x1="1776.18" y1="717" x2="1776.18" y2="732.5" stroke="#111" stroke-width="1.6" />
<line x1="1799.43" y1="717" x2="1799.43" y2="724.6" stroke="#111" stroke-width="1.6" />
<line x1="1822.67" y1="717" x2="1822.67" y2="724.6" stroke="#111" stroke-width="1.6" />
<line x1="1845.92" y1="717" x2="1845.92" y2="724.6" stroke="#111" stroke-width="1.6" />
<line x1="1869.17" y1="717" x2="1869.17" y2="724.6" stroke="#111" stroke-width="1.6" />
<line x1="1892.41" y1="717" x2="1892.41" y2="732.5" stroke="#111" stroke-width="1.6" />
<line x1="1915.66" y1="717" x2="1915.66" y2="724.6" stroke="#111" stroke-width="1.6" />
<line x1="1938.91" y1="717" x2="1938.91" y2="724.6" stroke="#111" stroke-width="1.6" />
<line x1="1962.15" y1="717" x2="1962.15" y2="724.6" stroke="#111" stroke-width="1.6" />
<line x1="1985.4" y1="717" x2="1985.4" y2="732.5" stroke="#111" stroke-width="1.6" />
</g>
<text transform="translate(121,70.05) scale(1,1.0412)" font-size="25.2" letter-spacing="2.100"><tspan font-family="NanumGothic, Liberation Sans, sans-serif" font-weight="bold" font-size="22.91">1</tspan>00</text>
<text transform="translate(137.1,201.31) scale(1,1.0412)" font-size="25.2" letter-spacing="2.100">80</text>
<text transform="translate(137.1,332.57) scale(1,1.0412)" font-size="25.2" letter-spacing="2.100">60</text>
<text transform="translate(137.1,463.83) scale(1,1.0412)" font-size="25.2" letter-spacing="2.100">40</text>
<text transform="translate(137.1,595.09) scale(1,1.0412)" font-size="25.2" letter-spacing="2.100">20</text>
<text transform="translate(153.2,726.35) scale(1,1.0412)" font-size="25.2" letter-spacing="2.100">0</text>
<text transform="translate(890.6,790.9) scale(1,1.0412)" font-size="25.2" letter-spacing="2.100">0</text>
<text transform="translate(748.01,790.9) scale(1,1.0412)" font-size="25.2" letter-spacing="2.100">20</text>
<text transform="translate(613.47,790.9) scale(1,1.0412)" font-size="25.2" letter-spacing="2.100">40</text>
<text transform="translate(478.93,790.9) scale(1,1.0412)" font-size="25.2" letter-spacing="2.100">60</text>
<text transform="translate(344.39,790.9) scale(1,1.0412)" font-size="25.2" letter-spacing="2.100">80</text>
<text transform="translate(200.8,790.9) scale(1,1.0412)" font-size="25.2" letter-spacing="2.100"><tspan font-family="NanumGothic, Liberation Sans, sans-serif" font-weight="bold" font-size="22.91">1</tspan>00</text>
<text transform="translate(108,513.2) rotate(-90) scale(1,1.0412)" font-size="35.6" letter-spacing="0.564"><tspan font-size="37.20">S</tspan>ensitivity (%)</text>
<text transform="translate(443.1,830.5) scale(1,1.0412)" font-size="35.46" letter-spacing="0.757"><tspan font-size="37.23">S</tspan>pecificity (%)</text>
<text transform="translate(487.8,593) scale(1,1.0412)" font-size="27.92" font-weight="bold" letter-spacing="1.028"><tspan font-size="30.43">S</tspan>trand-specific <tspan font-size="30.43">H</tspan><tspan font-size="30.43">K</tspan> model <tspan font-size="30.43">2</tspan></text>
<text transform="translate(592.4,651.3) scale(1,1.0412)" font-size="24.78" font-weight="bold" letter-spacing="0.243">Dataset 03 (AUC: 0.98)</text>
<text transform="translate(592.4,686.4) scale(1,1.0412)" font-size="24.78" font-weight="bold" letter-spacing="0.324">Dataset 02 (AUC: 0.97)</text>
<text transform="translate(1.8,61.6) scale(1,1.0412)" font-size="56.4" letter-spacing="0.300">A.</text>
<text transform="translate(1811.55,257.7) scale(1,1.0412)" font-size="23.31" font-weight="bold" letter-spacing="0.228">Dataset 02</text>
<text transform="translate(1869.1,287.6) scale(1,1.0412)" font-size="22.76" letter-spacing="0.500"><tspan font-size="24.13">5</tspan>' end</text>
<text transform="translate(1869.1,322) scale(1,1.0412)" font-size="22.76" letter-spacing="0.500"><tspan font-size="24.13">3</tspan>' end</text>
<text transform="translate(1223.1,350.7) scale(1,1.0412)" font-size="22.34" letter-spacing="0.967">0.70</text>
<text transform="translate(1224.1,298.37) scale(1,1.0412)" font-size="22.34" letter-spacing="0.967">0.75</text>
<text transform="translate(1223.1,244.83) scale(1,1.0412)" font-size="22.34" letter-spacing="0.967">0.80</text>
<text transform="translate(1224.1,188.2) scale(1,1.0412)" font-size="22.34" letter-spacing="0.967">0.85</text>
<text transform="translate(1223.1,131.57) scale(1,1.0412)" font-size="22.34" letter-spacing="0.967">0.90</text>
<text transform="translate(1224.1,74.78) scale(1,1.0412)" font-size="22.34" letter-spacing="0.967">0.95</text>
<text transform="translate(1223.1,19.1) scale(1,1.0412)" font-size="22.34" letter-spacing="0.967"><tspan font-family="NanumGothic, Liberation Sans, sans-serif" font-weight="bold" font-size="20.31">1</tspan>.00</text>
<text transform="translate(1811.55,633.9) scale(1,1.0412)" font-size="23.31" font-weight="bold" letter-spacing="0.228">Dataset 03</text>
<text transform="translate(1869.1,663.8) scale(1,1.0412)" font-size="22.76" letter-spacing="0.500"><tspan font-size="24.13">5</tspan>' end</text>
<text transform="translate(1869.1,698.2) scale(1,1.0412)" font-size="22.76" letter-spacing="0.500"><tspan font-size="24.13">3</tspan>' end</text>
<text transform="translate(1223.1,719.8) scale(1,1.0412)" font-size="22.34" letter-spacing="0.967">0.70</text>
<text transform="translate(1224.1,670.91) scale(1,1.0412)" font-size="22.34" letter-spacing="0.967">0.75</text>
<text transform="translate(1223.1,616.12) scale(1,1.0412)" font-size="22.34" letter-spacing="0.967">0.80</text>
<text transform="translate(1224.1,561.33) scale(1,1.0412)" font-size="22.34" letter-spacing="0.967">0.85</text>
<text transform="translate(1223.1,506.54) scale(1,1.0412)" font-size="22.34" letter-spacing="0.967">0.90</text>
<text transform="translate(1224.1,451.75) scale(1,1.0412)" font-size="22.34" letter-spacing="0.967">0.95</text>
<text transform="translate(1223.1,396.96) scale(1,1.0412)" font-size="22.34" letter-spacing="0.967"><tspan font-family="NanumGothic, Liberation Sans, sans-serif" font-weight="bold" font-size="20.31">1</tspan>.00</text>
<text transform="translate(1304.85,756) scale(1,1.0412)" font-size="22.34" letter-spacing="3.000"><tspan font-family="NanumGothic, Liberation Sans, sans-serif" font-weight="bold" font-size="20.31">1</tspan></text>
<text transform="translate(1420.58,756) scale(1,1.0412)" font-size="22.34" letter-spacing="3.000">6</text>
<text transform="translate(1529.81,756) scale(1,1.0412)" font-size="22.34" letter-spacing="3.000"><tspan font-family="NanumGothic, Liberation Sans, sans-serif" font-weight="bold" font-size="20.31">1</tspan><tspan font-family="NanumGothic, Liberation Sans, sans-serif" font-weight="bold" font-size="20.31">1</tspan></text>
<text transform="translate(1644.05,756) scale(1,1.0412)" font-size="22.34" letter-spacing="3.000"><tspan font-family="NanumGothic, Liberation Sans, sans-serif" font-weight="bold" font-size="20.31">1</tspan>6</text>
<text transform="translate(1763.28,756) scale(1,1.0412)" font-size="22.34" letter-spacing="3.000">2<tspan font-family="NanumGothic, Liberation Sans, sans-serif" font-weight="bold" font-size="20.31">1</tspan></text>
<text transform="translate(1877.45,756) scale(1,1.0412)" font-size="22.34" letter-spacing="3.000">26</text>
<text transform="translate(1970.5,756) scale(1,1.0412)" font-size="22.34" letter-spacing="3.000">30</text>
<text transform="translate(1201.9,259.3) rotate(-90) scale(1,1.0412)" font-size="33.37" letter-spacing="1.367">AUC-ROC</text>
<text transform="translate(1201.9,632.3) rotate(-90) scale(1,1.0412)" font-size="33.37" letter-spacing="1.350">AUC-ROC</text>
<text transform="translate(1462.3,793.6) scale(1,1.0412)" font-size="32.67" letter-spacing="1.040">Relative distance close to</text>
<text transform="translate(1361.3,832.1) scale(1,1.0412)" font-size="32.53" letter-spacing="1.208">the nearest ends of DNA fragments (nt)</text>
<text transform="translate(1081.2,61.6) scale(1,1.0412)" font-size="55.98" letter-spacing="0.800">B.</text>
</svg>
</body></html>
